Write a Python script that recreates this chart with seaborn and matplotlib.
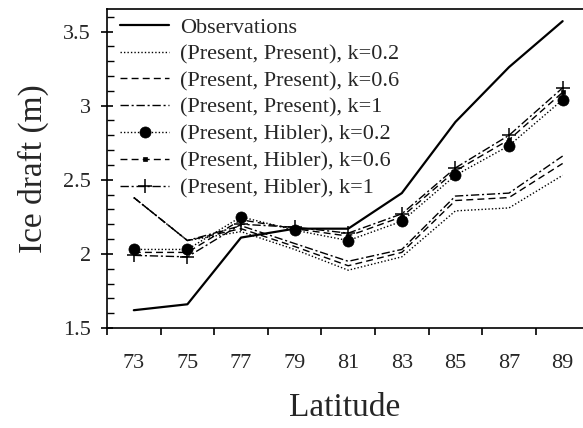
import numpy as np
import pandas as pd
import matplotlib
matplotlib.use('Agg')
import matplotlib.pyplot as plt
from matplotlib.ticker import MultipleLocator, FixedLocator, FormatStrFormatter, NullFormatter
import seaborn as sns

latitude = [73, 75, 77, 79, 81, 83, 85, 87, 89]
observations = [1.62, 1.66, 2.11, 2.17, 2.17, 2.41, 2.89, 3.26, 3.57]
present_present_02 = [2.38, 2.09, 2.15, 2.03, 1.89, 1.98, 2.29, 2.31, 2.53]
present_present_06 = [2.38, 2.09, 2.17, 2.05, 1.92, 2.01, 2.36, 2.38, 2.61]
present_present_1 = [2.38, 2.09, 2.19, 2.07, 1.95, 2.03, 2.39, 2.41, 2.66]
present_hibler_02 = [2.03, 2.03, 2.25, 2.16, 2.09, 2.22, 2.53, 2.73, 3.04]
present_hibler_06 = [2.01, 2.01, 2.23, 2.17, 2.12, 2.25, 2.56, 2.77, 3.09]
present_hibler_1 = [1.99, 1.98, 2.20, 2.18, 2.14, 2.27, 2.58, 2.80, 3.12]

labels = ['Observations',
          '(Present, Present), k=0.2',
          '(Present, Present), k=0.6',
          '(Present, Present), k=1',
          '(Present, Hibler), k=0.2',
          '(Present, Hibler), k=0.6',
          '(Present, Hibler), k=1']
series = [observations, present_present_02, present_present_06, present_present_1,
          present_hibler_02, present_hibler_06, present_hibler_1]

# seaborn paints marker edges white by default, so force black everywhere
mk = dict(markeredgecolor='black', markerfacecolor='black')
styles = [
    dict(linestyle='-', lw=1.6),
    dict(linestyle=(0, (1, 1.5)), lw=1),
    dict(linestyle=(0, (5, 3)), lw=1),
    dict(linestyle=(0, (6, 2, 1.5, 2)), lw=1),
    dict(linestyle=(0, (1, 1.5)), lw=1, marker='o', markersize=8, mew=0.5, **mk),
    dict(linestyle=(0, (5, 3)), lw=1, marker='s', markersize=3.5, mew=0.5, **mk),
    dict(linestyle=(0, (6, 2, 1.5, 2)), lw=1, marker='+', markersize=10.5, mew=1.1, **mk),
]

sns.set_theme(style='ticks')
plt.rcParams['font.family'] = ['Liberation Serif', 'DejaVu Serif']

fig = plt.figure(figsize=(5.83, 4.28), dpi=100)
ax = fig.add_axes([107 / 583, 100 / 428, 476 / 583, 318.7 / 428])

for label, values, st in zip(labels, series, styles):
    df = pd.DataFrame({'Latitude': latitude, 'draft': values})
    sns.lineplot(data=df, x='Latitude', y='draft', ax=ax, color='black',
                 label=label, **st)

ax.set_xlim(72, 89.76)
ax.set_ylim(1.5, 3.65)

ax.xaxis.set_major_locator(FixedLocator(np.arange(72, 91, 2)))
ax.xaxis.set_major_formatter(NullFormatter())
ax.xaxis.set_minor_locator(FixedLocator(latitude))
ax.xaxis.set_minor_formatter(FormatStrFormatter('%d'))
ax.tick_params(axis='x', which='major', direction='out', length=5, width=1.2, color='black')
ax.tick_params(axis='x', which='minor', length=0, pad=19, labelsize=16)

ax.yaxis.set_major_locator(MultipleLocator(0.5))
ax.yaxis.set_major_formatter(FormatStrFormatter('%g'))
ax.yaxis.set_minor_locator(MultipleLocator(0.1))
ax.tick_params(axis='y', which='major', direction='inout', length=9, width=1.2,
               labelsize=16, pad=7, color='black')
ax.tick_params(axis='y', which='minor', direction='in', length=5, width=1, color='black')

for side in ['left', 'bottom', 'top']:
    ax.spines[side].set_color('black')
    ax.spines[side].set_linewidth(1.2)
ax.spines['right'].set_visible(False)

ax.set_xlabel('Latitude', fontsize=24, labelpad=14)
ax.set_ylabel('Ice draft (m)', fontsize=24, labelpad=10)

ax.legend(loc='upper left', bbox_to_anchor=(0.012, 1.0), frameon=False, fontsize=16,
          handlelength=2.2, handletextpad=0.5, labelspacing=0.28,
          borderaxespad=0.25, borderpad=0.1)

fig.savefig('out.png', dpi=100)
